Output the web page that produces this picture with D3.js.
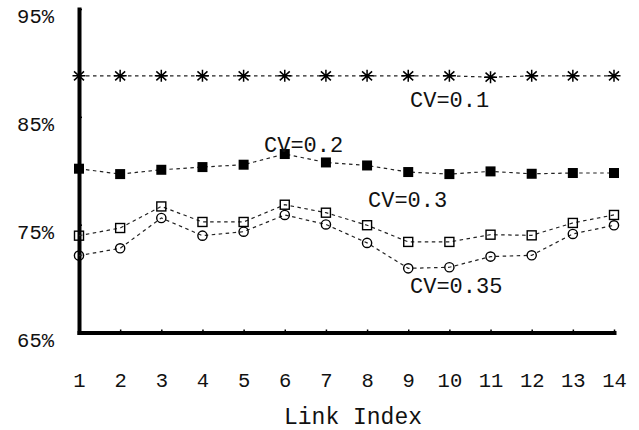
<!DOCTYPE html>
<html>
<head>
<meta charset="utf-8">
<script src="https://cdn.jsdelivr.net/npm/d3@7"></script>
<style>
  body { margin: 0; background: #fff; }
  text { font-family: "Liberation Mono", "DejaVu Sans Mono", monospace; fill: #111; }
</style>
</head>
<body>
<div id="container"></div>
<script>
const links = d3.range(1, 15);
const yTicks = [65, 75, 85, 95];

const cv01 = [88.8, 88.8, 88.8, 88.8, 88.8, 88.8, 88.8, 88.8, 88.8, 88.8, 88.68, 88.8, 88.8, 88.8];
const cv02 = [80.19, 79.69, 80.09, 80.34, 80.56, 81.55, 80.77, 80.49, 79.88, 79.69, 79.94, 79.72, 79.79, 79.79];
const cv03 = [73.98, 74.69, 76.69, 75.25, 75.25, 76.85, 76.11, 74.95, 73.40, 73.40, 74.07, 74.01, 75.16, 75.90];
const cv035 = [72.13, 72.81, 75.62, 73.98, 74.35, 75.90, 75.02, 73.31, 70.95, 71.05, 72.04, 72.16, 74.14, 74.94];

const labels = [
  {text: "CV=0.1", x: 410, y: 107},
  {text: "CV=0.2", x: 264, y: 152},
  {text: "CV=0.3", x: 368, y: 207},
  {text: "CV=0.35", x: 410, y: 293}
];

const w = 639, h = 430;

const x = d3.scaleLinear().domain([1, 14]).range([79, 614]);
const y = d3.scaleLinear().domain([65, 95]).range([332.5, 9]);

let svg = d3.select("#container")
    .append("svg")
    .attr("width", w)
    .attr("height", h);

// axes
let yAxis = svg.append("g")
    .attr("transform", "translate(" + x(1) + ",0)")
    .call(d3.axisLeft(y).tickValues(yTicks).tickSize(-3).tickSizeOuter(0)
          .tickPadding(25).tickFormat(d => d + "%"));
yAxis.selectAll("text").attr("dy", "0.68em").style("font-size", "20.5px");

let xAxis = svg.append("g")
    .attr("transform", "translate(0," + y(65) + ")")
    .call(d3.axisBottom(x).tickValues(links).tickSize(-3).tickSizeOuter(0));
xAxis.selectAll("text").attr("y", 54.5).attr("dy", 0).style("font-size", "20.5px");

svg.selectAll(".domain")
    .attr("stroke", "#000")
    .attr("stroke-width", 4)
    .attr("stroke-linecap", "square");
svg.selectAll(".tick line")
    .attr("stroke", "#000")
    .attr("stroke-width", 1.5);

svg.append("text")
    .attr("x", 353)
    .attr("y", 424)
    .attr("text-anchor", "middle")
    .style("font-size", "23px")
    .text("Link Index");

// series
const line = d3.line()
    .x((d, i) => x(links[i]))
    .y(d => y(d));

const series = [cv01, cv02, cv03, cv035];
svg.append("g").selectAll("path")
    .data(series)
    .enter()
    .append("path")
    .attr("d", line)
    .attr("fill", "none")
    .attr("stroke", "#222")
    .attr("stroke-width", 1.2)
    .attr("stroke-dasharray", "3.5,3.5");

// stars
svg.append("g").selectAll("path")
    .data(cv01)
    .enter()
    .append("path")
    .attr("transform", (d, i) => "translate(" + x(links[i]) + "," + y(d) + ")")
    .attr("d", "M-6.5,0H6.5M0,-6V6M-5,-4.5L5,4.5M-5,4.5L5,-4.5")
    .attr("stroke", "#000")
    .attr("stroke-width", 1.5);

// filled squares
svg.append("g").selectAll("rect")
    .data(cv02)
    .enter()
    .append("rect")
    .attr("x", (d, i) => x(links[i]) - 5)
    .attr("y", d => y(d) - 5)
    .attr("width", 10)
    .attr("height", 10)
    .attr("fill", "#000");

// open squares
svg.append("g").selectAll("rect")
    .data(cv03)
    .enter()
    .append("rect")
    .attr("x", (d, i) => x(links[i]) - 4.5)
    .attr("y", d => y(d) - 4.5)
    .attr("width", 9)
    .attr("height", 9)
    .attr("fill", "none")
    .attr("stroke", "#000")
    .attr("stroke-width", 1.4);

// circles
svg.append("g").selectAll("circle")
    .data(cv035)
    .enter()
    .append("circle")
    .attr("cx", (d, i) => x(links[i]))
    .attr("cy", d => y(d))
    .attr("r", 4.6)
    .attr("fill", "none")
    .attr("stroke", "#000")
    .attr("stroke-width", 1.4);

svg.append("g").selectAll("text")
    .data(labels)
    .enter()
    .append("text")
    .attr("x", d => d.x)
    .attr("y", d => d.y)
    .style("font-size", "22px")
    .text(d => d.text);
</script>
</body>
</html>
